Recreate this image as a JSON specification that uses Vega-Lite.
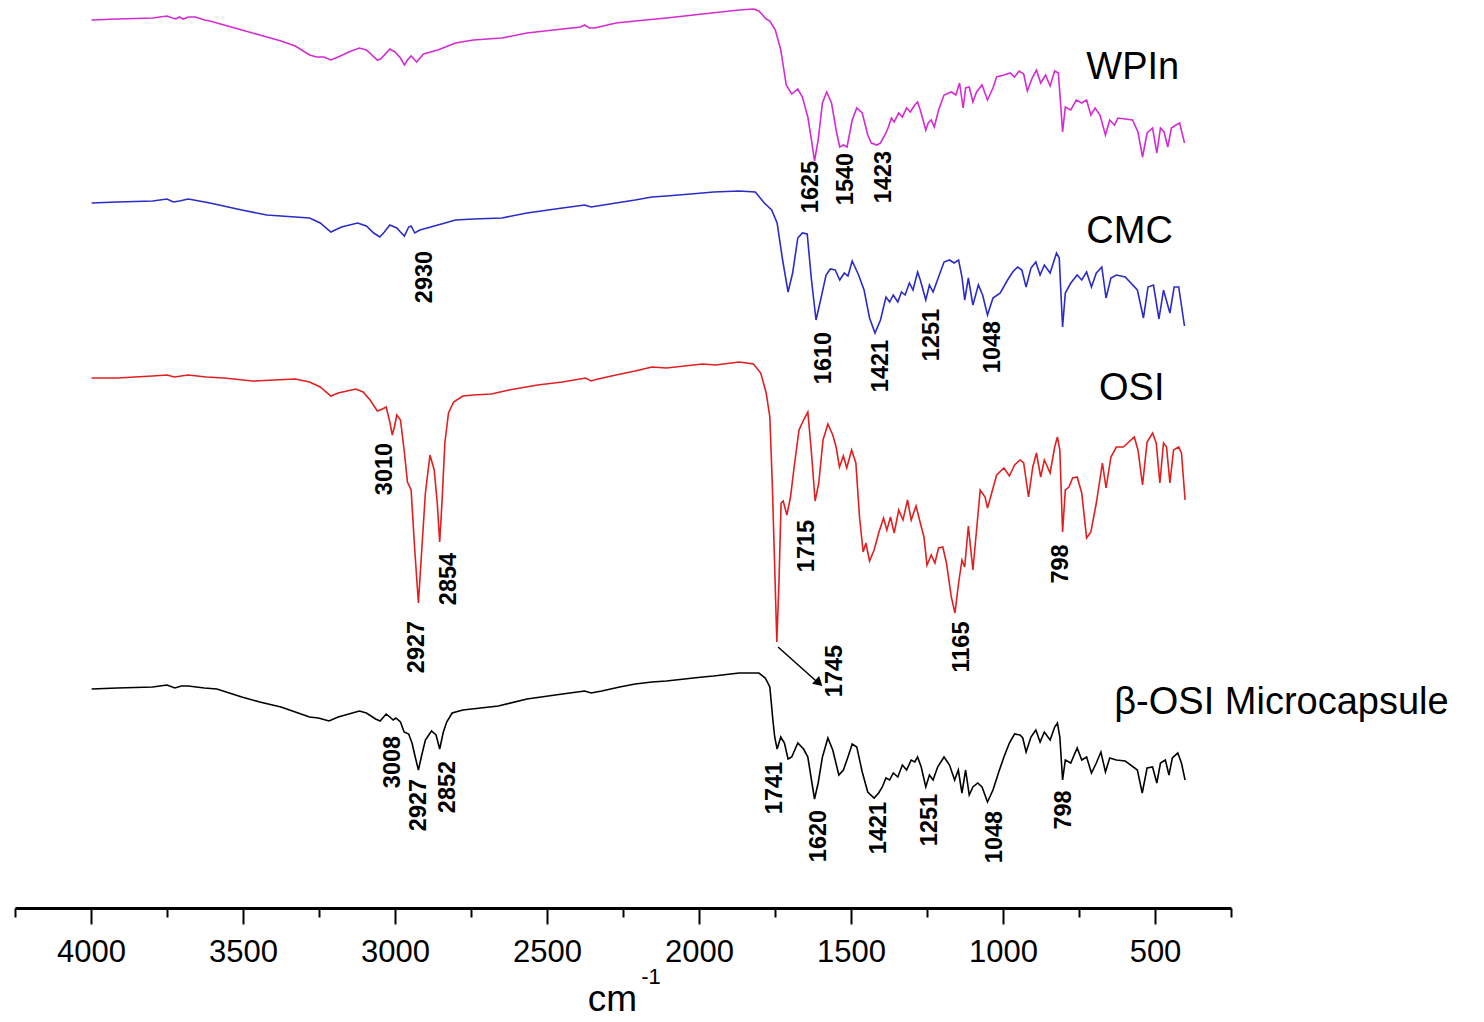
{
"$schema": "https://vega.github.io/schema/vega-lite/v6.json",
"width": 1216, "height": 908,
"padding": {"left": 14, "top": 0, "right": 0, "bottom": 0},
"autosize": {"type": "pad"},
"background": "white",
"config": {"view": {"stroke": null}},
"datasets": {
"spectra": [
{"s":"WPIn","wn":3998,"t":888},{"s":"WPIn","wn":3914,"t":889},{"s":"WPIn","wn":3797,"t":890},{"s":"WPIn","wn":3750,"t":892},{"s":"WPIn","wn":3732,"t":890},{"s":"WPIn","wn":3721,"t":889},{"s":"WPIn","wn":3709,"t":891},{"s":"WPIn","wn":3697,"t":889},{"s":"WPIn","wn":3680,"t":891},{"s":"WPIn","wn":3656,"t":891},{"s":"WPIn","wn":3627,"t":888},{"s":"WPIn","wn":3609,"t":887},{"s":"WPIn","wn":3562,"t":883},{"s":"WPIn","wn":3504,"t":878},{"s":"WPIn","wn":3445,"t":873},{"s":"WPIn","wn":3375,"t":867},{"s":"WPIn","wn":3328,"t":862},{"s":"WPIn","wn":3281,"t":853},{"s":"WPIn","wn":3258,"t":851},{"s":"WPIn","wn":3234,"t":851},{"s":"WPIn","wn":3211,"t":848},{"s":"WPIn","wn":3187,"t":851},{"s":"WPIn","wn":3152,"t":856},{"s":"WPIn","wn":3117,"t":860},{"s":"WPIn","wn":3094,"t":858},{"s":"WPIn","wn":3058,"t":848},{"s":"WPIn","wn":3047,"t":849},{"s":"WPIn","wn":3017,"t":859},{"s":"WPIn","wn":3000,"t":856},{"s":"WPIn","wn":2982,"t":850},{"s":"WPIn","wn":2969,"t":843},{"s":"WPIn","wn":2959,"t":848},{"s":"WPIn","wn":2947,"t":852},{"s":"WPIn","wn":2935,"t":848},{"s":"WPIn","wn":2929,"t":846},{"s":"WPIn","wn":2906,"t":854},{"s":"WPIn","wn":2883,"t":856},{"s":"WPIn","wn":2859,"t":858},{"s":"WPIn","wn":2801,"t":865},{"s":"WPIn","wn":2742,"t":868},{"s":"WPIn","wn":2648,"t":870},{"s":"WPIn","wn":2566,"t":875},{"s":"WPIn","wn":2449,"t":879},{"s":"WPIn","wn":2390,"t":881},{"s":"WPIn","wn":2376,"t":883},{"s":"WPIn","wn":2361,"t":880},{"s":"WPIn","wn":2343,"t":880},{"s":"WPIn","wn":2273,"t":885},{"s":"WPIn","wn":2210,"t":887},{"s":"WPIn","wn":2107,"t":890},{"s":"WPIn","wn":1988,"t":894},{"s":"WPIn","wn":1928,"t":896},{"s":"WPIn","wn":1868,"t":898},{"s":"WPIn","wn":1821,"t":899},{"s":"WPIn","wn":1803,"t":897},{"s":"WPIn","wn":1779,"t":889},{"s":"WPIn","wn":1767,"t":887},{"s":"WPIn","wn":1749,"t":878},{"s":"WPIn","wn":1731,"t":858},{"s":"WPIn","wn":1713,"t":823},{"s":"WPIn","wn":1695,"t":814},{"s":"WPIn","wn":1675,"t":819},{"s":"WPIn","wn":1660,"t":811},{"s":"WPIn","wn":1642,"t":791},{"s":"WPIn","wn":1630,"t":768},{"s":"WPIn","wn":1620,"t":747},{"s":"WPIn","wn":1608,"t":768},{"s":"WPIn","wn":1594,"t":805},{"s":"WPIn","wn":1580,"t":816},{"s":"WPIn","wn":1564,"t":805},{"s":"WPIn","wn":1549,"t":778},{"s":"WPIn","wn":1537,"t":761},{"s":"WPIn","wn":1525,"t":763},{"s":"WPIn","wn":1513,"t":761},{"s":"WPIn","wn":1496,"t":788},{"s":"WPIn","wn":1481,"t":800},{"s":"WPIn","wn":1463,"t":795},{"s":"WPIn","wn":1445,"t":773},{"s":"WPIn","wn":1433,"t":765},{"s":"WPIn","wn":1415,"t":763},{"s":"WPIn","wn":1403,"t":765},{"s":"WPIn","wn":1385,"t":775},{"s":"WPIn","wn":1377,"t":781},{"s":"WPIn","wn":1367,"t":790},{"s":"WPIn","wn":1358,"t":786},{"s":"WPIn","wn":1343,"t":795},{"s":"WPIn","wn":1331,"t":791},{"s":"WPIn","wn":1317,"t":800},{"s":"WPIn","wn":1305,"t":796},{"s":"WPIn","wn":1290,"t":803},{"s":"WPIn","wn":1281,"t":806},{"s":"WPIn","wn":1272,"t":798},{"s":"WPIn","wn":1254,"t":778},{"s":"WPIn","wn":1246,"t":785},{"s":"WPIn","wn":1236,"t":788},{"s":"WPIn","wn":1226,"t":781},{"s":"WPIn","wn":1212,"t":798},{"s":"WPIn","wn":1194,"t":813},{"s":"WPIn","wn":1170,"t":816},{"s":"WPIn","wn":1155,"t":813},{"s":"WPIn","wn":1143,"t":825},{"s":"WPIn","wn":1131,"t":800},{"s":"WPIn","wn":1123,"t":820},{"s":"WPIn","wn":1111,"t":821},{"s":"WPIn","wn":1099,"t":806},{"s":"WPIn","wn":1087,"t":816},{"s":"WPIn","wn":1069,"t":823},{"s":"WPIn","wn":1051,"t":808},{"s":"WPIn","wn":1033,"t":820},{"s":"WPIn","wn":1021,"t":831},{"s":"WPIn","wn":997,"t":833},{"s":"WPIn","wn":976,"t":835},{"s":"WPIn","wn":962,"t":831},{"s":"WPIn","wn":947,"t":837},{"s":"WPIn","wn":932,"t":834},{"s":"WPIn","wn":920,"t":817},{"s":"WPIn","wn":904,"t":830},{"s":"WPIn","wn":890,"t":838},{"s":"WPIn","wn":876,"t":825},{"s":"WPIn","wn":860,"t":833},{"s":"WPIn","wn":845,"t":822},{"s":"WPIn","wn":830,"t":837},{"s":"WPIn","wn":818,"t":835},{"s":"WPIn","wn":809,"t":798},{"s":"WPIn","wn":804,"t":776},{"s":"WPIn","wn":795,"t":801},{"s":"WPIn","wn":777,"t":798},{"s":"WPIn","wn":759,"t":808},{"s":"WPIn","wn":741,"t":805},{"s":"WPIn","wn":725,"t":808},{"s":"WPIn","wn":711,"t":793},{"s":"WPIn","wn":697,"t":800},{"s":"WPIn","wn":681,"t":793},{"s":"WPIn","wn":663,"t":773},{"s":"WPIn","wn":649,"t":788},{"s":"WPIn","wn":633,"t":783},{"s":"WPIn","wn":622,"t":790},{"s":"WPIn","wn":574,"t":788},{"s":"WPIn","wn":556,"t":776},{"s":"WPIn","wn":541,"t":751},{"s":"WPIn","wn":526,"t":775},{"s":"WPIn","wn":508,"t":780},{"s":"WPIn","wn":494,"t":755},{"s":"WPIn","wn":482,"t":780},{"s":"WPIn","wn":470,"t":776},{"s":"WPIn","wn":458,"t":761},{"s":"WPIn","wn":446,"t":780},{"s":"WPIn","wn":431,"t":783},{"s":"WPIn","wn":419,"t":785},{"s":"WPIn","wn":403,"t":765},
{"s":"CMC","wn":3998,"t":705},{"s":"CMC","wn":3914,"t":706},{"s":"CMC","wn":3797,"t":707},{"s":"CMC","wn":3750,"t":709},{"s":"CMC","wn":3729,"t":706},{"s":"CMC","wn":3709,"t":707},{"s":"CMC","wn":3680,"t":709},{"s":"CMC","wn":3644,"t":707},{"s":"CMC","wn":3609,"t":705},{"s":"CMC","wn":3504,"t":698},{"s":"CMC","wn":3422,"t":693},{"s":"CMC","wn":3328,"t":691},{"s":"CMC","wn":3281,"t":690},{"s":"CMC","wn":3246,"t":685},{"s":"CMC","wn":3211,"t":676},{"s":"CMC","wn":3176,"t":681},{"s":"CMC","wn":3123,"t":685},{"s":"CMC","wn":3094,"t":682},{"s":"CMC","wn":3070,"t":675},{"s":"CMC","wn":3050,"t":671},{"s":"CMC","wn":3035,"t":676},{"s":"CMC","wn":3017,"t":683},{"s":"CMC","wn":2994,"t":680},{"s":"CMC","wn":2982,"t":676},{"s":"CMC","wn":2969,"t":672},{"s":"CMC","wn":2955,"t":681},{"s":"CMC","wn":2947,"t":682},{"s":"CMC","wn":2935,"t":675},{"s":"CMC","wn":2918,"t":678},{"s":"CMC","wn":2859,"t":683},{"s":"CMC","wn":2801,"t":688},{"s":"CMC","wn":2742,"t":689},{"s":"CMC","wn":2648,"t":690},{"s":"CMC","wn":2566,"t":695},{"s":"CMC","wn":2449,"t":700},{"s":"CMC","wn":2376,"t":703},{"s":"CMC","wn":2355,"t":701},{"s":"CMC","wn":2273,"t":705},{"s":"CMC","wn":2210,"t":708},{"s":"CMC","wn":2155,"t":711},{"s":"CMC","wn":2107,"t":712},{"s":"CMC","wn":1988,"t":715},{"s":"CMC","wn":1952,"t":716},{"s":"CMC","wn":1868,"t":717},{"s":"CMC","wn":1815,"t":716},{"s":"CMC","wn":1785,"t":705},{"s":"CMC","wn":1761,"t":698},{"s":"CMC","wn":1743,"t":685},{"s":"CMC","wn":1725,"t":648},{"s":"CMC","wn":1707,"t":616},{"s":"CMC","wn":1692,"t":635},{"s":"CMC","wn":1675,"t":670},{"s":"CMC","wn":1660,"t":675},{"s":"CMC","wn":1644,"t":674},{"s":"CMC","wn":1630,"t":628},{"s":"CMC","wn":1615,"t":588},{"s":"CMC","wn":1600,"t":608},{"s":"CMC","wn":1582,"t":633},{"s":"CMC","wn":1568,"t":639},{"s":"CMC","wn":1552,"t":638},{"s":"CMC","wn":1537,"t":628},{"s":"CMC","wn":1522,"t":635},{"s":"CMC","wn":1510,"t":632},{"s":"CMC","wn":1496,"t":647},{"s":"CMC","wn":1475,"t":633},{"s":"CMC","wn":1457,"t":618},{"s":"CMC","wn":1439,"t":590},{"s":"CMC","wn":1421,"t":575},{"s":"CMC","wn":1403,"t":588},{"s":"CMC","wn":1385,"t":611},{"s":"CMC","wn":1373,"t":606},{"s":"CMC","wn":1361,"t":613},{"s":"CMC","wn":1346,"t":606},{"s":"CMC","wn":1334,"t":616},{"s":"CMC","wn":1322,"t":613},{"s":"CMC","wn":1308,"t":625},{"s":"CMC","wn":1296,"t":618},{"s":"CMC","wn":1281,"t":636},{"s":"CMC","wn":1272,"t":628},{"s":"CMC","wn":1254,"t":608},{"s":"CMC","wn":1242,"t":623},{"s":"CMC","wn":1230,"t":616},{"s":"CMC","wn":1212,"t":631},{"s":"CMC","wn":1194,"t":646},{"s":"CMC","wn":1176,"t":648},{"s":"CMC","wn":1161,"t":645},{"s":"CMC","wn":1146,"t":648},{"s":"CMC","wn":1135,"t":631},{"s":"CMC","wn":1126,"t":608},{"s":"CMC","wn":1114,"t":630},{"s":"CMC","wn":1099,"t":603},{"s":"CMC","wn":1081,"t":623},{"s":"CMC","wn":1067,"t":613},{"s":"CMC","wn":1051,"t":593},{"s":"CMC","wn":1033,"t":610},{"s":"CMC","wn":1009,"t":615},{"s":"CMC","wn":985,"t":628},{"s":"CMC","wn":968,"t":636},{"s":"CMC","wn":952,"t":641},{"s":"CMC","wn":938,"t":638},{"s":"CMC","wn":924,"t":621},{"s":"CMC","wn":908,"t":640},{"s":"CMC","wn":892,"t":646},{"s":"CMC","wn":878,"t":633},{"s":"CMC","wn":864,"t":643},{"s":"CMC","wn":845,"t":635},{"s":"CMC","wn":824,"t":655},{"s":"CMC","wn":815,"t":650},{"s":"CMC","wn":804,"t":581},{"s":"CMC","wn":795,"t":615},{"s":"CMC","wn":777,"t":625},{"s":"CMC","wn":756,"t":633},{"s":"CMC","wn":741,"t":628},{"s":"CMC","wn":725,"t":636},{"s":"CMC","wn":709,"t":621},{"s":"CMC","wn":693,"t":635},{"s":"CMC","wn":675,"t":641},{"s":"CMC","wn":661,"t":610},{"s":"CMC","wn":645,"t":630},{"s":"CMC","wn":627,"t":633},{"s":"CMC","wn":598,"t":631},{"s":"CMC","wn":558,"t":618},{"s":"CMC","wn":538,"t":590},{"s":"CMC","wn":523,"t":621},{"s":"CMC","wn":505,"t":623},{"s":"CMC","wn":487,"t":589},{"s":"CMC","wn":472,"t":618},{"s":"CMC","wn":451,"t":595},{"s":"CMC","wn":437,"t":621},{"s":"CMC","wn":422,"t":621},{"s":"CMC","wn":403,"t":582},
{"s":"OSI","wn":3998,"t":530},{"s":"OSI","wn":3914,"t":530},{"s":"OSI","wn":3797,"t":532},{"s":"OSI","wn":3750,"t":533},{"s":"OSI","wn":3726,"t":531},{"s":"OSI","wn":3680,"t":533},{"s":"OSI","wn":3621,"t":531},{"s":"OSI","wn":3562,"t":530},{"s":"OSI","wn":3469,"t":527},{"s":"OSI","wn":3328,"t":529},{"s":"OSI","wn":3281,"t":526},{"s":"OSI","wn":3246,"t":521},{"s":"OSI","wn":3211,"t":512},{"s":"OSI","wn":3187,"t":515},{"s":"OSI","wn":3129,"t":519},{"s":"OSI","wn":3105,"t":516},{"s":"OSI","wn":3082,"t":508},{"s":"OSI","wn":3058,"t":497},{"s":"OSI","wn":3041,"t":499},{"s":"OSI","wn":3029,"t":501},{"s":"OSI","wn":3017,"t":486},{"s":"OSI","wn":3009,"t":473},{"s":"OSI","wn":3002,"t":481},{"s":"OSI","wn":2994,"t":493},{"s":"OSI","wn":2982,"t":488},{"s":"OSI","wn":2970,"t":458},{"s":"OSI","wn":2959,"t":426},{"s":"OSI","wn":2947,"t":418},{"s":"OSI","wn":2935,"t":358},{"s":"OSI","wn":2923,"t":305},{"s":"OSI","wn":2912,"t":358},{"s":"OSI","wn":2900,"t":415},{"s":"OSI","wn":2885,"t":453},{"s":"OSI","wn":2871,"t":438},{"s":"OSI","wn":2861,"t":405},{"s":"OSI","wn":2853,"t":366},{"s":"OSI","wn":2845,"t":408},{"s":"OSI","wn":2836,"t":465},{"s":"OSI","wn":2824,"t":495},{"s":"OSI","wn":2807,"t":506},{"s":"OSI","wn":2777,"t":512},{"s":"OSI","wn":2742,"t":513},{"s":"OSI","wn":2683,"t":514},{"s":"OSI","wn":2625,"t":518},{"s":"OSI","wn":2531,"t":523},{"s":"OSI","wn":2449,"t":526},{"s":"OSI","wn":2373,"t":530},{"s":"OSI","wn":2355,"t":527},{"s":"OSI","wn":2332,"t":529},{"s":"OSI","wn":2273,"t":533},{"s":"OSI","wn":2210,"t":537},{"s":"OSI","wn":2155,"t":541},{"s":"OSI","wn":2107,"t":540},{"s":"OSI","wn":1988,"t":544},{"s":"OSI","wn":1946,"t":543},{"s":"OSI","wn":1868,"t":546},{"s":"OSI","wn":1821,"t":544},{"s":"OSI","wn":1797,"t":535},{"s":"OSI","wn":1779,"t":515},{"s":"OSI","wn":1767,"t":491},{"s":"OSI","wn":1759,"t":425},{"s":"OSI","wn":1751,"t":341},{"s":"OSI","wn":1744,"t":266},{"s":"OSI","wn":1737,"t":325},{"s":"OSI","wn":1730,"t":405},{"s":"OSI","wn":1723,"t":407},{"s":"OSI","wn":1711,"t":393},{"s":"OSI","wn":1699,"t":411},{"s":"OSI","wn":1687,"t":441},{"s":"OSI","wn":1671,"t":478},{"s":"OSI","wn":1656,"t":488},{"s":"OSI","wn":1642,"t":496},{"s":"OSI","wn":1630,"t":455},{"s":"OSI","wn":1618,"t":407},{"s":"OSI","wn":1606,"t":425},{"s":"OSI","wn":1592,"t":468},{"s":"OSI","wn":1576,"t":484},{"s":"OSI","wn":1560,"t":473},{"s":"OSI","wn":1549,"t":461},{"s":"OSI","wn":1538,"t":441},{"s":"OSI","wn":1525,"t":452},{"s":"OSI","wn":1514,"t":440},{"s":"OSI","wn":1498,"t":458},{"s":"OSI","wn":1484,"t":445},{"s":"OSI","wn":1472,"t":391},{"s":"OSI","wn":1460,"t":356},{"s":"OSI","wn":1451,"t":365},{"s":"OSI","wn":1439,"t":347},{"s":"OSI","wn":1424,"t":358},{"s":"OSI","wn":1409,"t":375},{"s":"OSI","wn":1393,"t":390},{"s":"OSI","wn":1382,"t":378},{"s":"OSI","wn":1370,"t":391},{"s":"OSI","wn":1358,"t":375},{"s":"OSI","wn":1343,"t":398},{"s":"OSI","wn":1329,"t":388},{"s":"OSI","wn":1314,"t":408},{"s":"OSI","wn":1302,"t":388},{"s":"OSI","wn":1286,"t":402},{"s":"OSI","wn":1272,"t":385},{"s":"OSI","wn":1260,"t":371},{"s":"OSI","wn":1250,"t":343},{"s":"OSI","wn":1236,"t":353},{"s":"OSI","wn":1224,"t":345},{"s":"OSI","wn":1212,"t":360},{"s":"OSI","wn":1198,"t":361},{"s":"OSI","wn":1186,"t":345},{"s":"OSI","wn":1170,"t":311},{"s":"OSI","wn":1158,"t":295},{"s":"OSI","wn":1146,"t":325},{"s":"OSI","wn":1135,"t":348},{"s":"OSI","wn":1126,"t":341},{"s":"OSI","wn":1114,"t":382},{"s":"OSI","wn":1099,"t":338},{"s":"OSI","wn":1087,"t":378},{"s":"OSI","wn":1075,"t":418},{"s":"OSI","wn":1059,"t":411},{"s":"OSI","wn":1051,"t":400},{"s":"OSI","wn":1039,"t":413},{"s":"OSI","wn":1021,"t":433},{"s":"OSI","wn":997,"t":440},{"s":"OSI","wn":979,"t":432},{"s":"OSI","wn":962,"t":443},{"s":"OSI","wn":944,"t":448},{"s":"OSI","wn":932,"t":445},{"s":"OSI","wn":916,"t":411},{"s":"OSI","wn":902,"t":441},{"s":"OSI","wn":890,"t":455},{"s":"OSI","wn":876,"t":431},{"s":"OSI","wn":864,"t":448},{"s":"OSI","wn":845,"t":435},{"s":"OSI","wn":830,"t":461},{"s":"OSI","wn":821,"t":471},{"s":"OSI","wn":813,"t":458},{"s":"OSI","wn":804,"t":376},{"s":"OSI","wn":795,"t":418},{"s":"OSI","wn":783,"t":421},{"s":"OSI","wn":771,"t":430},{"s":"OSI","wn":756,"t":431},{"s":"OSI","wn":741,"t":415},{"s":"OSI","wn":725,"t":370},{"s":"OSI","wn":711,"t":376},{"s":"OSI","wn":693,"t":405},{"s":"OSI","wn":673,"t":445},{"s":"OSI","wn":661,"t":420},{"s":"OSI","wn":645,"t":451},{"s":"OSI","wn":627,"t":461},{"s":"OSI","wn":604,"t":461},{"s":"OSI","wn":568,"t":471},{"s":"OSI","wn":556,"t":458},{"s":"OSI","wn":541,"t":423},{"s":"OSI","wn":526,"t":466},{"s":"OSI","wn":508,"t":475},{"s":"OSI","wn":496,"t":465},{"s":"OSI","wn":484,"t":425},{"s":"OSI","wn":472,"t":465},{"s":"OSI","wn":462,"t":461},{"s":"OSI","wn":451,"t":425},{"s":"OSI","wn":439,"t":458},{"s":"OSI","wn":422,"t":461},{"s":"OSI","wn":413,"t":455},{"s":"OSI","wn":401,"t":408},
{"s":"β-OSI Microcapsule","wn":3998,"t":219},{"s":"β-OSI Microcapsule","wn":3914,"t":220},{"s":"β-OSI Microcapsule","wn":3797,"t":221},{"s":"β-OSI Microcapsule","wn":3750,"t":223},{"s":"β-OSI Microcapsule","wn":3724,"t":220},{"s":"β-OSI Microcapsule","wn":3703,"t":222},{"s":"β-OSI Microcapsule","wn":3680,"t":222},{"s":"β-OSI Microcapsule","wn":3627,"t":220},{"s":"β-OSI Microcapsule","wn":3586,"t":219},{"s":"β-OSI Microcapsule","wn":3504,"t":211},{"s":"β-OSI Microcapsule","wn":3445,"t":206},{"s":"β-OSI Microcapsule","wn":3375,"t":201},{"s":"β-OSI Microcapsule","wn":3328,"t":196},{"s":"β-OSI Microcapsule","wn":3281,"t":191},{"s":"β-OSI Microcapsule","wn":3252,"t":190},{"s":"β-OSI Microcapsule","wn":3217,"t":187},{"s":"β-OSI Microcapsule","wn":3187,"t":191},{"s":"β-OSI Microcapsule","wn":3117,"t":197},{"s":"β-OSI Microcapsule","wn":3094,"t":195},{"s":"β-OSI Microcapsule","wn":3064,"t":189},{"s":"β-OSI Microcapsule","wn":3049,"t":187},{"s":"β-OSI Microcapsule","wn":3029,"t":194},{"s":"β-OSI Microcapsule","wn":3017,"t":191},{"s":"β-OSI Microcapsule","wn":3006,"t":188},{"s":"β-OSI Microcapsule","wn":2997,"t":190},{"s":"β-OSI Microcapsule","wn":2982,"t":186},{"s":"β-OSI Microcapsule","wn":2970,"t":176},{"s":"β-OSI Microcapsule","wn":2955,"t":174},{"s":"β-OSI Microcapsule","wn":2944,"t":165},{"s":"β-OSI Microcapsule","wn":2935,"t":153},{"s":"β-OSI Microcapsule","wn":2923,"t":138},{"s":"β-OSI Microcapsule","wn":2912,"t":153},{"s":"β-OSI Microcapsule","wn":2900,"t":168},{"s":"β-OSI Microcapsule","wn":2880,"t":177},{"s":"β-OSI Microcapsule","wn":2865,"t":173},{"s":"β-OSI Microcapsule","wn":2853,"t":159},{"s":"β-OSI Microcapsule","wn":2841,"t":176},{"s":"β-OSI Microcapsule","wn":2830,"t":186},{"s":"β-OSI Microcapsule","wn":2812,"t":195},{"s":"β-OSI Microcapsule","wn":2777,"t":198},{"s":"β-OSI Microcapsule","wn":2718,"t":200},{"s":"β-OSI Microcapsule","wn":2660,"t":202},{"s":"β-OSI Microcapsule","wn":2566,"t":209},{"s":"β-OSI Microcapsule","wn":2449,"t":214},{"s":"β-OSI Microcapsule","wn":2376,"t":217},{"s":"β-OSI Microcapsule","wn":2355,"t":215},{"s":"β-OSI Microcapsule","wn":2320,"t":217},{"s":"β-OSI Microcapsule","wn":2261,"t":221},{"s":"β-OSI Microcapsule","wn":2210,"t":224},{"s":"β-OSI Microcapsule","wn":2155,"t":226},{"s":"β-OSI Microcapsule","wn":2107,"t":227},{"s":"β-OSI Microcapsule","wn":1988,"t":231},{"s":"β-OSI Microcapsule","wn":1952,"t":232},{"s":"β-OSI Microcapsule","wn":1868,"t":235},{"s":"β-OSI Microcapsule","wn":1803,"t":235},{"s":"β-OSI Microcapsule","wn":1782,"t":230},{"s":"β-OSI Microcapsule","wn":1767,"t":221},{"s":"β-OSI Microcapsule","wn":1757,"t":188},{"s":"β-OSI Microcapsule","wn":1751,"t":171},{"s":"β-OSI Microcapsule","wn":1743,"t":159},{"s":"β-OSI Microcapsule","wn":1731,"t":171},{"s":"β-OSI Microcapsule","wn":1719,"t":165},{"s":"β-OSI Microcapsule","wn":1707,"t":149},{"s":"β-OSI Microcapsule","wn":1695,"t":151},{"s":"β-OSI Microcapsule","wn":1675,"t":165},{"s":"β-OSI Microcapsule","wn":1656,"t":159},{"s":"β-OSI Microcapsule","wn":1642,"t":151},{"s":"β-OSI Microcapsule","wn":1630,"t":128},{"s":"β-OSI Microcapsule","wn":1620,"t":109},{"s":"β-OSI Microcapsule","wn":1608,"t":125},{"s":"β-OSI Microcapsule","wn":1594,"t":151},{"s":"β-OSI Microcapsule","wn":1576,"t":170},{"s":"β-OSI Microcapsule","wn":1560,"t":158},{"s":"β-OSI Microcapsule","wn":1540,"t":133},{"s":"β-OSI Microcapsule","wn":1525,"t":138},{"s":"β-OSI Microcapsule","wn":1510,"t":151},{"s":"β-OSI Microcapsule","wn":1496,"t":164},{"s":"β-OSI Microcapsule","wn":1481,"t":161},{"s":"β-OSI Microcapsule","wn":1463,"t":136},{"s":"β-OSI Microcapsule","wn":1445,"t":116},{"s":"β-OSI Microcapsule","wn":1424,"t":110},{"s":"β-OSI Microcapsule","wn":1409,"t":115},{"s":"β-OSI Microcapsule","wn":1397,"t":121},{"s":"β-OSI Microcapsule","wn":1385,"t":130},{"s":"β-OSI Microcapsule","wn":1373,"t":128},{"s":"β-OSI Microcapsule","wn":1361,"t":135},{"s":"β-OSI Microcapsule","wn":1346,"t":131},{"s":"β-OSI Microcapsule","wn":1331,"t":143},{"s":"β-OSI Microcapsule","wn":1317,"t":138},{"s":"β-OSI Microcapsule","wn":1302,"t":148},{"s":"β-OSI Microcapsule","wn":1290,"t":146},{"s":"β-OSI Microcapsule","wn":1281,"t":151},{"s":"β-OSI Microcapsule","wn":1269,"t":141},{"s":"β-OSI Microcapsule","wn":1254,"t":121},{"s":"β-OSI Microcapsule","wn":1242,"t":133},{"s":"β-OSI Microcapsule","wn":1230,"t":128},{"s":"β-OSI Microcapsule","wn":1215,"t":141},{"s":"β-OSI Microcapsule","wn":1194,"t":151},{"s":"β-OSI Microcapsule","wn":1176,"t":143},{"s":"β-OSI Microcapsule","wn":1159,"t":128},{"s":"β-OSI Microcapsule","wn":1147,"t":138},{"s":"β-OSI Microcapsule","wn":1135,"t":115},{"s":"β-OSI Microcapsule","wn":1123,"t":138},{"s":"β-OSI Microcapsule","wn":1111,"t":113},{"s":"β-OSI Microcapsule","wn":1099,"t":121},{"s":"β-OSI Microcapsule","wn":1083,"t":125},{"s":"β-OSI Microcapsule","wn":1069,"t":121},{"s":"β-OSI Microcapsule","wn":1051,"t":106},{"s":"β-OSI Microcapsule","wn":1033,"t":118},{"s":"β-OSI Microcapsule","wn":1015,"t":135},{"s":"β-OSI Microcapsule","wn":997,"t":151},{"s":"β-OSI Microcapsule","wn":979,"t":165},{"s":"β-OSI Microcapsule","wn":962,"t":174},{"s":"β-OSI Microcapsule","wn":944,"t":173},{"s":"β-OSI Microcapsule","wn":935,"t":170},{"s":"β-OSI Microcapsule","wn":924,"t":156},{"s":"β-OSI Microcapsule","wn":908,"t":171},{"s":"β-OSI Microcapsule","wn":892,"t":178},{"s":"β-OSI Microcapsule","wn":878,"t":166},{"s":"β-OSI Microcapsule","wn":864,"t":176},{"s":"β-OSI Microcapsule","wn":845,"t":168},{"s":"β-OSI Microcapsule","wn":830,"t":181},{"s":"β-OSI Microcapsule","wn":821,"t":185},{"s":"β-OSI Microcapsule","wn":813,"t":171},{"s":"β-OSI Microcapsule","wn":804,"t":128},{"s":"β-OSI Microcapsule","wn":795,"t":148},{"s":"β-OSI Microcapsule","wn":777,"t":145},{"s":"β-OSI Microcapsule","wn":756,"t":160},{"s":"β-OSI Microcapsule","wn":741,"t":148},{"s":"β-OSI Microcapsule","wn":725,"t":151},{"s":"β-OSI Microcapsule","wn":709,"t":135},{"s":"β-OSI Microcapsule","wn":693,"t":145},{"s":"β-OSI Microcapsule","wn":678,"t":156},{"s":"β-OSI Microcapsule","wn":663,"t":136},{"s":"β-OSI Microcapsule","wn":649,"t":150},{"s":"β-OSI Microcapsule","wn":627,"t":148},{"s":"β-OSI Microcapsule","wn":598,"t":147},{"s":"β-OSI Microcapsule","wn":558,"t":138},{"s":"β-OSI Microcapsule","wn":542,"t":115},{"s":"β-OSI Microcapsule","wn":526,"t":140},{"s":"β-OSI Microcapsule","wn":508,"t":141},{"s":"β-OSI Microcapsule","wn":494,"t":125},{"s":"β-OSI Microcapsule","wn":482,"t":145},{"s":"β-OSI Microcapsule","wn":466,"t":148},{"s":"β-OSI Microcapsule","wn":454,"t":133},{"s":"β-OSI Microcapsule","wn":443,"t":150},{"s":"β-OSI Microcapsule","wn":425,"t":155},{"s":"β-OSI Microcapsule","wn":413,"t":145},{"s":"β-OSI Microcapsule","wn":401,"t":128}
],
"peaks": [
{"label":"1625","wn":1630,"t":721},{"label":"1540","wn":1515,"t":729},{"label":"1423","wn":1391,"t":731},
{"label":"2930","wn":2900,"t":631},{"label":"1610","wn":1590,"t":550},{"label":"1421","wn":1402,"t":542},{"label":"1251","wn":1235,"t":573},{"label":"1048","wn":1032,"t":561},
{"label":"3010","wn":3033,"t":439},{"label":"2927","wn":2926,"t":261},{"label":"2854","wn":2821,"t":329},{"label":"1715","wn":1645,"t":362},{"label":"1745","wn":1552,"t":237},{"label":"1165","wn":1135,"t":261},{"label":"798","wn":808,"t":344},
{"label":"3008","wn":3006,"t":146},{"label":"2927","wn":2921,"t":103},{"label":"2852","wn":2827,"t":121},{"label":"1741","wn":1749,"t":120},{"label":"1620","wn":1604,"t":72},{"label":"1421","wn":1407,"t":80},{"label":"1251","wn":1240,"t":88},{"label":"1048","wn":1025,"t":71},{"label":"798","wn":800,"t":98}
],
"names": [
{"name":"WPIn","wn":726,"t":840},{"name":"CMC","wn":726,"t":676},{"name":"OSI","wn":684,"t":519},{"name":"β-OSI Microcapsule","wn":634,"t":205}
],
"arrow": [{"wn":1740,"t":261,"wn2":1600,"t2":223}],
"head": [{"wn":1609,"t":226}],
"sup": [{"txt":"-1","wn":2190,"t":-69}]
},
"encoding": {
"x": {"field":"wn","type":"quantitative",
 "scale":{"domain":[4250,250],"zero":false,"nice":false},
 "axis":{
  "values":[4250,4000,3750,3500,3250,3000,2750,2500,2250,2000,1750,1500,1250,1000,750,500,250],
  "format":"d",
  "labelExpr":"datum.value % 500 === 0 ? datum.label : ''",
  "tickSize":{"condition":{"test":"datum.value % 500 === 0","value":16},"value":9},
  "tickWidth":2,"tickColor":"black","domainColor":"black","domainWidth":3,
  "labelFontSize":31,"labelFont":"Liberation Sans","labelColor":"black","labelPadding":13,
  "labelOverlap":false,"labelFlush":false,"labelBound":false,"grid":false,
  "title":"cm","titleFontSize":37,"titleFont":"Liberation Sans","titleFontWeight":"normal","titleColor":"black",
  "titleX":597,"titleY":102,"titleBaseline":"alphabetic","titleAlign":"center"
 }},
"y": {"field":"t","type":"quantitative","scale":{"domain":[0,908],"zero":false,"nice":false},"axis":null}
},
"layer": [
{"data":{"name":"spectra"},
 "mark":{"type":"line","strokeWidth":1.6},
 "encoding":{"color":{"field":"s","type":"nominal","scale":{"domain":["WPIn","CMC","OSI","β-OSI Microcapsule"],"range":["#d42bd4","#2b2bc8","#e02020","#000000"]},"legend":null}}},
{"data":{"name":"peaks"},
 "mark":{"type":"text","angle":270,"font":"Liberation Sans","fontWeight":"bold","fontSize":23.5,"align":"center","baseline":"middle","color":"black"},
 "encoding":{"text":{"field":"label","type":"nominal"}}},
{"data":{"name":"names"},
 "mark":{"type":"text","font":"Liberation Sans","fontSize":38,"align":"left","baseline":"middle","color":"black"},
 "encoding":{"text":{"field":"name","type":"nominal"}}},
{"data":{"name":"arrow"},
 "mark":{"type":"rule","color":"black","strokeWidth":1.5},
 "encoding":{"x2":{"field":"wn2"},"y2":{"field":"t2"}}},
{"data":{"name":"head"},
 "mark":{"type":"point","shape":"triangle","filled":true,"size":110,"angle":132,"color":"black","opacity":1},
 "encoding":{}},
{"data":{"name":"sup"},
 "mark":{"type":"text","font":"Liberation Sans","fontSize":22,"align":"left","baseline":"middle","color":"black"},
 "encoding":{"text":{"field":"txt","type":"nominal"}}}
]
}
